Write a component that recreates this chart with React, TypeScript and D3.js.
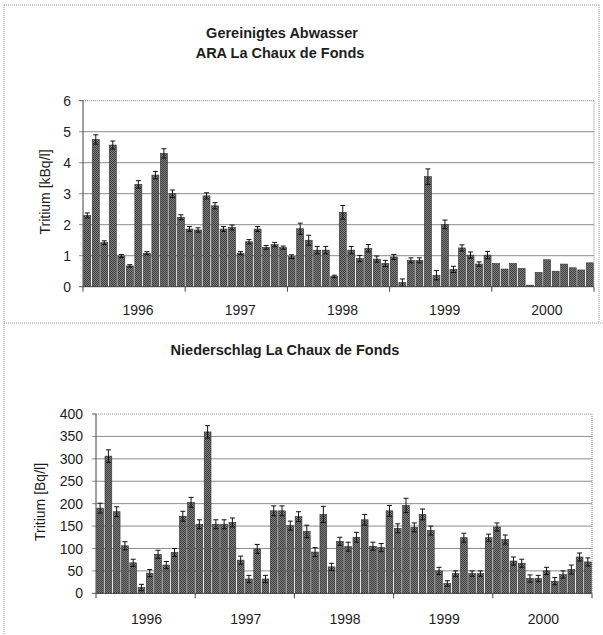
import React from 'react';
import * as d3 from 'd3';

const years = ['1996', '1997', '1998', '1999', '2000'];
const monthCodes = ['01', '02', '03', '04', '05', '06', '07', '08', '09', '10', '11', '12'];
const categories = years.flatMap((y) => monthCodes.map((m) => `${y}-${m}`));

// Gereinigtes Abwasser, Tritium [kBq/l]
const abwasserValues = [
  2.3, 4.75, 1.42, 4.57, 0.99, 0.67, 3.3, 1.08, 3.6, 4.3, 3.0, 2.24,
  1.86, 1.83, 2.93, 2.61, 1.86, 1.91, 1.08, 1.45, 1.86, 1.27, 1.36, 1.26,
  0.97, 1.87, 1.5, 1.18, 1.18, 0.33, 2.4, 1.18, 0.91, 1.24, 0.89, 0.75,
  0.96, 0.13, 0.85, 0.85, 3.55, 0.37, 2.01, 0.56, 1.25, 1.02, 0.73, 1.02,
  0.75, 0.57, 0.75, 0.59, 0.05, 0.46, 0.87, 0.5, 0.73, 0.61, 0.54, 0.77,
];
const abwasserErrors = [
  0.08, 0.15, 0.06, 0.13, 0.05, 0.04, 0.12, 0.05, 0.12, 0.15, 0.12, 0.08,
  0.08, 0.07, 0.1, 0.1, 0.08, 0.08, 0.05, 0.07, 0.08, 0.06, 0.07, 0.05,
  0.06, 0.18, 0.16, 0.12, 0.12, 0.04, 0.22, 0.12, 0.1, 0.12, 0.1, 0.1,
  0.08, 0.12, 0.08, 0.08, 0.25, 0.15, 0.14, 0.1, 0.1, 0.1, 0.07, 0.12,
  0, 0, 0, 0, 0, 0, 0, 0, 0, 0, 0, 0,
];

// Niederschlag, Tritium [Bq/l]
const niederschlagValues = [
  190, 306, 182, 106, 68, 13, 45, 87, 63, 91, 172, 203,
  154, 360, 154, 154, 158, 74, 32, 99, 32, 184, 184, 151,
  171, 138, 92, 176, 59, 116, 104, 125, 164, 105, 102, 184,
  145, 196, 147, 176, 140, 50, 22, 44, 124, 44, 44, 124,
  148, 120, 72, 67, 33, 33, 50, 27, 42, 53, 81, 70,
];
const niederschlagErrors = [
  11, 14, 11, 9, 8, 7, 8, 9, 8, 9, 11, 11,
  10, 14, 10, 10, 10, 9, 8, 10, 8, 11, 11, 10,
  11, 14, 10, 18, 8, 9, 10, 11, 12, 9, 9, 12,
  10, 16, 10, 12, 10, 8, 6, 6, 10, 6, 6, 8,
  9, 10, 9, 9, 8, 7, 8, 8, 8, 10, 9, 9,
];

const abwasserTicks = [0, 1, 2, 3, 4, 5, 6];
const niederschlagTicks = [0, 50, 100, 150, 200, 250, 300, 350, 400];

const FONT = "'Liberation Sans', Arial, Helvetica, sans-serif";
const TEXT = '#1e1e1e';
const LABEL_SIZE = 14;
const TITLE_SIZE = 14.5;

type PanelProps = {
  x0: number;
  x1: number;
  yTop: number;
  yBottom: number;
  ticks: number[];
  values: number[];
  errors: number[];
  yLabel: string;
  yLabelX: number;
  yLabelY: number;
  tickGap: number;
  yearLabelY: number;
  yearShift: number;
};

function Panel(p: PanelProps) {
  const x = d3.scaleBand<string>().domain(categories).range([p.x0, p.x1]).paddingInner(0.18).paddingOuter(0.09);
  const y = d3.scaleLinear().domain([0, d3.max(p.ticks) as number]).range([p.yBottom, p.yTop]);
  const bw = x.bandwidth();
  const yearX = (i: number) => p.x0 + (p.x1 - p.x0) * (i / years.length);
  return (
    <g>
      {p.ticks.map((t, i) => (
        <g key={`g${i}`}>
          {i > 0 && i < p.ticks.length - 1 && (
            <line x1={p.x0 - 4} x2={p.x1} y1={y(t)} y2={y(t)} stroke="#8c8c8c" strokeWidth={1} />
          )}
          {i === p.ticks.length - 1 && (
            <>
              <line x1={p.x0 - 4} x2={p.x0} y1={y(t)} y2={y(t)} stroke="#555" strokeWidth={1} />
              <line x1={p.x0} x2={p.x1} y1={y(t)} y2={y(t)} stroke="#8c8c8c" strokeWidth={1} strokeDasharray="1,1" />
            </>
          )}
          {i === 0 && <line x1={p.x0 - 4} x2={p.x0} y1={y(t)} y2={y(t)} stroke="#555" strokeWidth={1} />}
          <text
            x={p.x0 - p.tickGap}
            y={y(t)}
            dy="0.36em"
            textAnchor="end"
            fontFamily={FONT}
            fontSize={LABEL_SIZE}
            fill={TEXT}
          >
            {t}
          </text>
        </g>
      ))}
      <line x1={p.x1} x2={p.x1} y1={p.yTop} y2={p.yBottom} stroke="#8c8c8c" strokeWidth={1} strokeDasharray="1,1" />
      {categories.map((c, i) => {
        const v = p.values[i];
        const bx = x(c) as number;
        return (
          <rect
            key={`b${i}`}
            x={bx}
            y={y(v)}
            width={bw}
            height={p.yBottom - y(v)}
            fill="url(#stipple)"
            stroke="#333"
            strokeWidth={0.6}
          />
        );
      })}
      {categories.map((c, i) => {
        const e = p.errors[i];
        if (!e) return null;
        const v = p.values[i];
        const cx = (x(c) as number) + bw / 2;
        const yHi = y(v + e);
        const yLo = y(Math.max(0, v - e));
        return (
          <g key={`e${i}`} stroke="#111" strokeWidth={1}>
            <line x1={cx} x2={cx} y1={yHi} y2={yLo} />
            <line x1={cx - 2.5} x2={cx + 2.5} y1={yHi} y2={yHi} />
            <line x1={cx - 2.5} x2={cx + 2.5} y1={yLo} y2={yLo} />
          </g>
        );
      })}
      <line x1={p.x0} x2={p.x0} y1={p.yTop} y2={p.yBottom} stroke="#444" strokeWidth={1} />
      <line x1={p.x0} x2={p.x1} y1={p.yBottom} y2={p.yBottom} stroke="#444" strokeWidth={1} />
      {years.map((yr, i) => (
        <line key={`t${i}`} x1={yearX(i)} x2={yearX(i)} y1={p.yBottom} y2={p.yBottom + 5} stroke="#444" strokeWidth={1} />
      ))}
      <line x1={p.x1} x2={p.x1} y1={p.yBottom} y2={p.yBottom + 5} stroke="#444" strokeWidth={1} />
      {years.map((yr, i) => (
        <text
          key={`yl${i}`}
          x={(yearX(i) + yearX(i + 1)) / 2 + p.yearShift}
          y={p.yearLabelY}
          textAnchor="middle"
          fontFamily={FONT}
          fontSize={LABEL_SIZE}
          fill={TEXT}
        >
          {yr}
        </text>
      ))}
      <text
        transform={`translate(${p.yLabelX},${p.yLabelY}) rotate(-90)`}
        textAnchor="middle"
        dy="0.35em"
        fontFamily={FONT}
        fontSize={LABEL_SIZE}
        fill={TEXT}
      >
        {p.yLabel}
      </text>
    </g>
  );
}

export default function App() {
  return (
    <svg
      width={603}
      height={635}
      viewBox="0 0 603 635"
      style={{ position: 'absolute', left: 0, top: 0, background: '#fff' }}
    >
      <defs>
        <pattern id="stipple" width={2} height={2} patternUnits="userSpaceOnUse">
          <rect width={2} height={2} fill="#7e7e7e" />
          <rect width={1} height={1} fill="#404040" />
          <rect x={1} y={1} width={1} height={1} fill="#404040" />
        </pattern>
      </defs>
      <rect x={0} y={0} width={603} height={635} fill="#fff" />
      <g stroke="#9a9a9a" strokeWidth={1} strokeDasharray="1,1" fill="none">
        <line x1={4} x2={599} y1={5} y2={5} />
        <line x1={4} x2={4} y1={5} y2={635} />
        <line x1={599} x2={599} y1={5} y2={323} />
        <line x1={4} x2={603} y1={323} y2={323} />
      </g>
      <text x={282} y={38} textAnchor="middle" fontFamily={FONT} fontSize={TITLE_SIZE} fontWeight="bold" fill={TEXT}>
        Gereinigtes Abwasser
      </text>
      <text x={280} y={58} textAnchor="middle" fontFamily={FONT} fontSize={TITLE_SIZE} fontWeight="bold" fill={TEXT}>
        ARA La Chaux de Fonds
      </text>
      <text x={285} y={355} textAnchor="middle" fontFamily={FONT} fontSize={TITLE_SIZE} fontWeight="bold" fill={TEXT}>
        Niederschlag La Chaux de Fonds
      </text>
      <Panel
        x0={83}
        x1={594}
        yTop={100.7}
        yBottom={286.7}
        ticks={abwasserTicks}
        values={abwasserValues}
        errors={abwasserErrors}
        yLabel="Tritium [kBq/l]"
        yLabelX={45}
        yLabelY={192}
        tickGap={12}
        yearLabelY={315}
        yearShift={4}
      />
      <Panel
        x0={96}
        x1={592}
        yTop={414}
        yBottom={593.3}
        ticks={niederschlagTicks}
        values={niederschlagValues}
        errors={niederschlagErrors}
        yLabel="Tritium [Bq/l]"
        yLabelX={40}
        yLabelY={502}
        tickGap={13}
        yearLabelY={624}
        yearShift={1}
      />
    </svg>
  );
}
